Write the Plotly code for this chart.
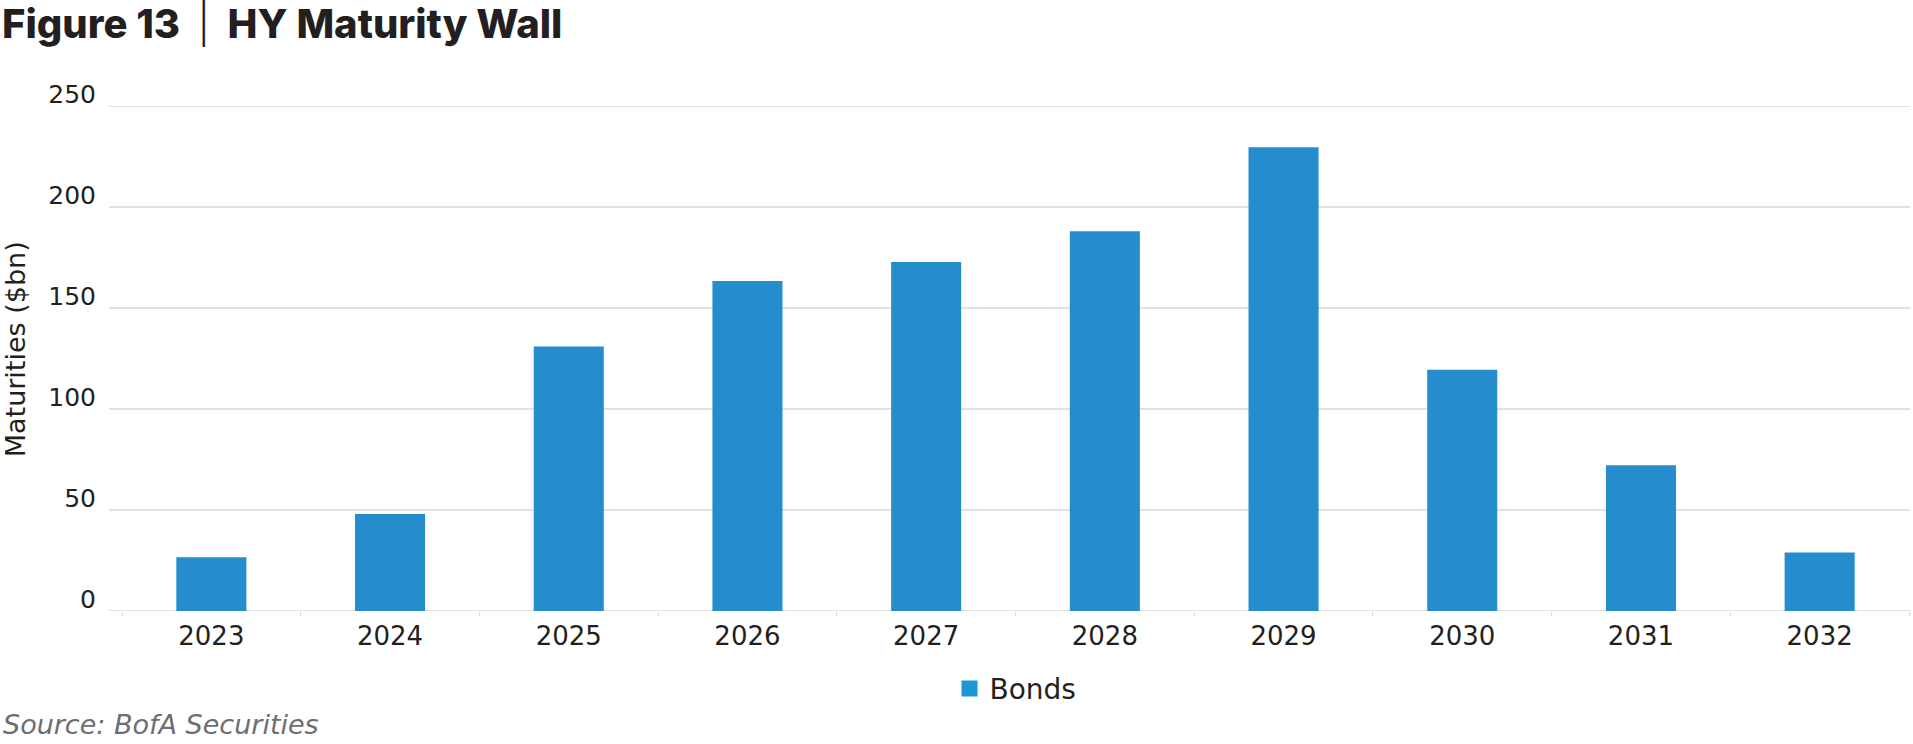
import plotly.graph_objects as go

years = ["2023", "2024", "2025", "2026", "2027", "2028", "2029", "2030", "2031", "2032"]
bonds = [26.6, 48.0, 131.0, 163.4, 172.8, 188.0, 229.6, 119.4, 72.1, 29.0]
y_ticks = [0, 50, 100, 150, 200, 250]

W, H = 1913, 744
L, R = 122, 1908.6
TOP, BOT = 105.7, 610.7
pw, ph = R - L, BOT - TOP

def px(x):
    return (x - L) / pw

def py(y):
    return (BOT - y) / ph

TXT = "#231f20"
BAR = "#258dcd"
GRID = "#d9d9d9"

fig = go.Figure()
fig.add_trace(go.Bar(x=years, y=bonds, marker=dict(color=BAR, line=dict(width=0)),
                     showlegend=False, name="Bonds"))
fig.add_trace(go.Scatter(x=[None], y=[None], mode="markers", name="Bonds",
                         marker=dict(symbol="square", size=19, color="#1f97d5")))

shapes = []
for t in y_ticks:
    shapes.append(dict(type="line", xref="paper", yref="y", x0=px(109), x1=px(1910),
                       y0=t, y1=t, line=dict(color=GRID, width=1.6 if t == 0 else 1.3),
                       layer="below"))

fig.update_layout(
    width=W, height=H, autosize=False,
    margin=dict(l=L, r=W - R, t=TOP, b=H - BOT, pad=0),
    paper_bgcolor="white", plot_bgcolor="white",
    bargap=0.608,
    font=dict(family="DejaVu Sans", color=TXT, size=24),
    shapes=shapes,
    xaxis=dict(type="category", showgrid=False, showline=False, zeroline=False,
               ticks="outside", tickson="boundaries", ticklen=4, tickcolor=GRID,
               tickfont=dict(size=26, color=TXT), ticklabelstandoff=7),
    yaxis=dict(range=[0, 250], tickvals=y_ticks, showgrid=False, zeroline=False,
               showline=False, tickfont=dict(size=25, color=TXT),
               ticklabelstandoff=25, ticklabelshift=-12),
    legend=dict(orientation="h", x=0.5, xanchor="center", y=py(688.5), yanchor="middle",
                font=dict(size=28, color=TXT), itemwidth=30, bgcolor="rgba(0,0,0,0)"),
    annotations=[
        dict(text="Figure 13  <span style=\"font-weight:300\">|</span>  HY Maturity Wall",
             xref="paper", yref="paper",
             x=px(0), y=py(23), xanchor="left", yanchor="middle", showarrow=False,
             font=dict(family="Inter", size=40, color=TXT, weight=800)),
        dict(text="Maturities ($bn)", xref="paper", yref="paper", textangle=-90,
             x=px(15), y=py(349), xanchor="center", yanchor="middle", showarrow=False,
             font=dict(size=27, color=TXT)),
        dict(text="<i>Source: BofA Securities</i>", xref="paper", yref="paper",
             x=px(1), y=py(724), xanchor="left", yanchor="middle", showarrow=False,
             font=dict(size=27, color="#6d6e71")),
    ],
)

fig.write_html("out.html", config={"displayModeBar": False},
               post_script="document.body.style.margin='0';document.body.style.overflow='hidden';")
